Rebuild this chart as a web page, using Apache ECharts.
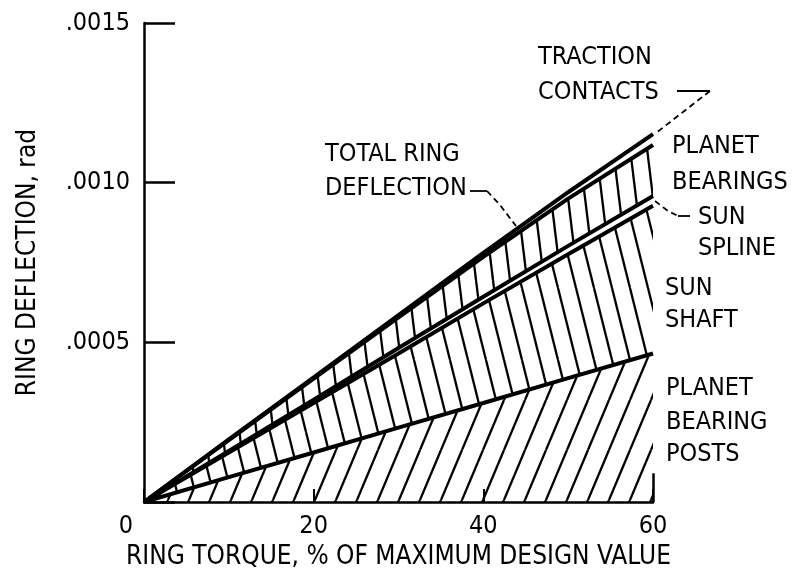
<!DOCTYPE html>
<html>
<head>
<meta charset="utf-8">
<title>Ring deflection vs ring torque</title>
<script src="https://cdn.jsdelivr.net/npm/echarts@6/dist/echarts.min.js"></script>
<style>
  html, body { margin: 0; padding: 0; background: #fff; }
  #chart { width: 794px; height: 577px; }
</style>
</head>
<body>
<div id="chart"></div>
<script>
// ring torque, % of maximum design value
const torque = [0, 10, 20, 30, 40, 50, 60];

// deflection contributions, rad (stacked bottom to top)
const bearingPosts   = [0, 0.000078, 0.000155, 0.000233, 0.000310, 0.000388, 0.000465];
const sunShaft       = [0, 0.000077, 0.000155, 0.000232, 0.000312, 0.000388, 0.000463];
const sunSpline      = [0, 0.000005, 0.000010, 0.000017, 0.000021, 0.000026, 0.000030];
const planetBearings = [0, 0.000034, 0.000066, 0.000096, 0.000125, 0.000148, 0.000160];
const traction       = [0, 0.000002, 0.000004, 0.000007, 0.000012, 0.000020, 0.000034];

const FONT = "'DejaVu Sans Condensed', 'Liberation Sans Narrow', 'DejaVu Sans', sans-serif";

// tileable hatch canvas; 'back' = top-left to bottom-right, 'fwd' = bottom-left to top-right
function makeHatch(w, h, slant) {
  const c = document.createElement('canvas');
  c.width = w; c.height = h;
  const g = c.getContext('2d');
  g.strokeStyle = '#000';
  g.lineWidth = 2.3;
  for (let k = -1; k <= 1; k++) {
    g.beginPath();
    if (slant === 'back') { g.moveTo(k * w, 0); g.lineTo(k * w + w, h); }
    else { g.moveTo(k * w, h); g.lineTo(k * w + w, 0); }
    g.stroke();
  }
  return { image: c, repeat: 'repeat' };
}

function band(name, arr, fill) {
  return {
    name, type: 'line', stack: 'ring', data: arr,
    symbol: 'none', silent: true,
    lineStyle: { color: '#000', width: 4 },
    areaStyle: fill ? { color: fill, opacity: 1 } : { opacity: 0 }
  };
}

const chart = echarts.init(document.getElementById('chart'), null, { renderer: 'canvas' });

const last = torque.length - 1;
const posts = band('Planet bearing posts', bearingPosts, makeHatch(21, 50, 'fwd'));
posts.markLine = {
  symbol: 'none', silent: true, label: { show: false },
  lineStyle: { color: '#000', width: 2.5, type: 'solid' },
  data: [[{ coord: [last, 0] }, { coord: [last, 0.00009] }]]
};

const txt = (s, x, y) => ({
  type: 'text', x, y, silent: true,
  style: { text: s, font: '25px ' + FONT, fill: '#000', verticalAlign: 'middle' }
});
const lead = (pts, dashed) => ({
  type: 'polyline', silent: true,
  shape: { points: pts },
  style: { stroke: '#000', lineWidth: 1.8, fill: null, lineDash: dashed ? [6, 4] : null }
});

chart.setOption({
  animation: false,
  backgroundColor: '#fff',
  grid: { left: 144, right: 141, top: 23, bottom: 75 },
  xAxis: {
    type: 'category', data: torque.map(String), boundaryGap: false,
    name: 'RING TORQUE, % OF MAXIMUM DESIGN VALUE',
    nameLocation: 'middle', nameGap: 38,
    nameTextStyle: { fontFamily: FONT, fontSize: 26, color: '#000' },
    axisLine: { show: true, onZero: false, lineStyle: { color: '#000', width: 2.5 } },
    axisTick: { show: true, inside: true, length: 13, interval: 1, lineStyle: { color: '#000', width: 2 } },
    splitLine: { show: false },
    axisLabel: {
      interval: 1, fontFamily: FONT, fontSize: 25, color: '#000', margin: 12,
      formatter: v => v === '0' ? '{z|0}' : v,
      rich: { z: { fontFamily: FONT, fontSize: 25, color: '#000', padding: [0, 36, 0, 0] } }
    }
  },
  yAxis: {
    type: 'value', min: 0, max: 0.0015, interval: 0.0005,
    name: 'RING DEFLECTION, rad',
    nameLocation: 'middle', nameRotate: 90, nameGap: 103,
    nameTextStyle: { fontFamily: FONT, fontSize: 26, color: '#000' },
    axisLine: { show: true, lineStyle: { color: '#000', width: 2.5 } },
    axisTick: { show: true, inside: true, length: 31, lineStyle: { color: '#000', width: 2.5 } },
    splitLine: { show: false },
    axisLabel: {
      fontFamily: FONT, fontSize: 25, color: '#000', margin: 14,
      formatter: v => {
        const n = Math.round(v * 10000);
        return n === 0 ? '' : '.' + String(n).padStart(4, '0');
      }
    }
  },
  series: [
    posts,
    band('Sun shaft', sunShaft, makeHatch(18, 72, 'back')),
    band('Sun spline', sunSpline, null),
    band('Planet bearings', planetBearings, makeHatch(17, 140, 'back')),
    band('Traction contacts', traction, null)
  ],
  graphic: [
    txt('TRACTION', 538, 57), txt('CONTACTS', 538, 92),
    txt('PLANET', 672, 146), txt('BEARINGS', 672, 182),
    txt('SUN', 698, 217), txt('SPLINE', 698, 248),
    txt('SUN', 665, 288), txt('SHAFT', 665, 320),
    txt('PLANET', 666, 388), txt('BEARING', 666, 422), txt('POSTS', 666, 454),
    txt('TOTAL RING', 325, 154), txt('DEFLECTION', 325, 188),
    lead([[470, 191], [487, 191]], false),
    lead([[487, 191], [500, 205], [516, 226]], true),
    lead([[677, 91], [710, 91]], false),
    lead([[710, 91], [656, 133]], true),
    lead([[655, 201], [668, 211], [678, 216]], true),
    lead([[678, 216], [690, 216]], false)
  ]
});
</script>
</body>
</html>
